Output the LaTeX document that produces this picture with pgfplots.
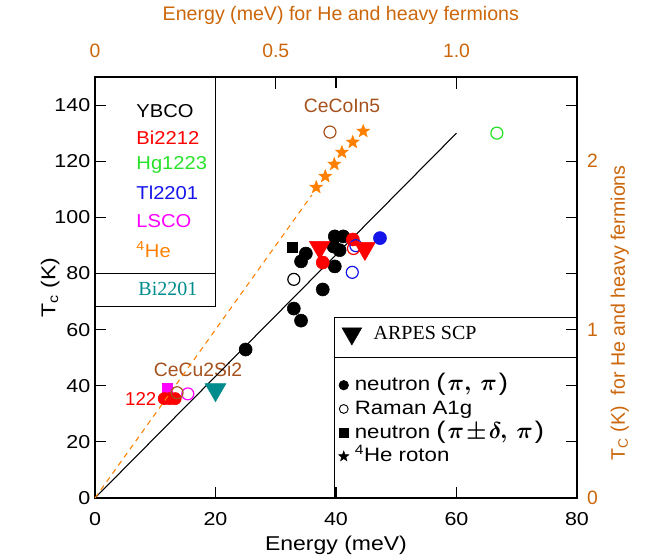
\documentclass[border=0pt]{standalone}
\usepackage{fontspec}
\setmainfont{Liberation Sans}
\newfontfamily\hers[FakeStretch=1.15]{Liberation Sans}
\newfontfamily\hersn[FakeStretch=1.08]{Liberation Sans}
\newfontfamily\serif{Liberation Serif}
\usepackage{pgfplots}
\pgfplotsset{compat=1.18}
\definecolor{axorange}{RGB}{204,102,10}
\definecolor{hfbrown}{RGB}{165,82,30}
\definecolor{heorange}{RGB}{255,128,0}
\definecolor{hggreen}{RGB}{40,225,40}
\definecolor{tlblue}{RGB}{20,20,235}
\definecolor{lscomag}{RGB}{255,0,255}
\definecolor{biteal}{RGB}{0,140,140}
\newcommand{\bp}[1]{{\fontsize{18}{18}\selectfont(\kern1.5pt\boldmath$#1$\kern1.5pt)}}
\pgfdeclareplotmark{fstar}{%
 \pgfpathmoveto{\pgfpointpolar{90}{\pgfplotmarksize}}%
 \pgfpathlineto{\pgfpointpolar{126}{0.42\pgfplotmarksize}}%
 \pgfpathlineto{\pgfpointpolar{162}{\pgfplotmarksize}}%
 \pgfpathlineto{\pgfpointpolar{198}{0.42\pgfplotmarksize}}%
 \pgfpathlineto{\pgfpointpolar{234}{\pgfplotmarksize}}%
 \pgfpathlineto{\pgfpointpolar{270}{0.42\pgfplotmarksize}}%
 \pgfpathlineto{\pgfpointpolar{306}{\pgfplotmarksize}}%
 \pgfpathlineto{\pgfpointpolar{342}{0.42\pgfplotmarksize}}%
 \pgfpathlineto{\pgfpointpolar{18}{\pgfplotmarksize}}%
 \pgfpathlineto{\pgfpointpolar{54}{0.42\pgfplotmarksize}}%
 \pgfpathclose\pgfusepathqfillstroke}
\begin{document}
\begin{tikzpicture}
\path[use as bounding box] (-71.25pt,-45.75pt) rectangle (416.25pt,373.5pt);
% ---------------- main axis (cuprates) ----------------
\begin{axis}[
  at={(0pt,0pt)}, anchor=south west, scale only axis,
  width=361.5pt, height=315.75pt,
  xmin=0, xmax=80, ymin=0, ymax=150,
  xtick={0,20,40,60,80}, ytick={0,20,40,60,80,100,120,140},
  xticklabel pos=lower, yticklabel pos=left,
  tick align=inside, major tick length=8pt,
  tick style={black, line width=0.8pt},
  axis line style={black, line width=0.9pt},
  ticklabel style={font=\hers\fontsize{14}{16}\selectfont},
  xticklabel style={yshift=-7pt},
  /pgf/number format/assume math mode=true,
  xlabel={Energy (meV)},
  ylabel={T\textsubscript{c} (K)},
  xlabel style={font=\hers\fontsize{15}{17}\selectfont, at={(axis description cs:0.5,-0.112)}, anchor=center},
  ylabel style={font=\hers\fontsize{15}{17}\selectfont, at={(axis description cs:-0.093,0.5)}, anchor=center},
  clip=false,
  legend image code/.code={\draw[#1] plot coordinates {(0pt,0pt)};},
  legend cell align=left,
  legend style={draw=none, fill=none, at={(axis cs:40.4,43.6)}, anchor=north west,
    font=\hers\fontsize{14.5}{17}\selectfont, inner sep=0pt,
    nodes={inner sep=0pt, text height=11pt, text depth=3pt},
    row sep=3.8pt, column sep=4.5pt},
]
\addlegendimage{only marks, mark=*, mark size=3.6pt, black}
\addlegendentry{neutron \bp{\pi,\,\pi}}
\addlegendimage{only marks, mark=o, mark size=3.3pt, black, line width=0.7pt}
\addlegendentry{Raman A1g}
\addlegendimage{only marks, mark=square*, mark size=3.3pt, black}
\addlegendentry{neutron \bp{\pi\kern1.5pt{\pm}\kern1.5pt\delta,\,\pi}}
\addlegendimage{only marks, mark=fstar, mark size=4pt, black}
\addlegendentry{\textsuperscript{4}He roton}
% boxes
\draw[black, line width=0.9pt] (axis cs:0,80) -- (axis cs:20,80) -- (axis cs:20,150);
\draw[black, line width=0.9pt] (axis cs:0,68.2) -- (axis cs:20,68.2) -- (axis cs:20,80);
\draw[black, line width=0.9pt] (axis cs:39.7,0) -- (axis cs:39.7,64.3) -- (axis cs:80,64.3);
\draw[black, line width=0.9pt] (axis cs:39.7,50) -- (axis cs:80,50);
% material key
\node[anchor=west, font=\hersn\fontsize{14}{16}\selectfont, text=black] at (axis cs:6.1,137.9) {YBCO};
\node[anchor=west, font=\hersn\fontsize{14}{16}\selectfont, text=red] at (axis cs:6.1,128.2) {Bi2212};
\node[anchor=west, font=\hersn\fontsize{14}{16}\selectfont, text=hggreen] at (axis cs:6.1,118.7) {Hg1223};
\node[anchor=west, font=\hersn\fontsize{14}{16}\selectfont, text=tlblue] at (axis cs:6.1,108.9) {Tl2201};
\node[anchor=west, font=\hersn\fontsize{14}{16}\selectfont, text=lscomag] at (axis cs:6.1,98.6) {LSCO};
\node[anchor=west, font=\hersn\fontsize{14}{16}\selectfont, text=heorange] at (axis cs:6.1,88.6) {\textsuperscript{4}He};
\node[font=\serif\fontsize{15}{17}\selectfont, text=biteal] at (axis cs:12.1,74.4) {Bi2201};
\node[font=\fontsize{14.5}{16}\selectfont, text=hfbrown] at (axis cs:41.0,139.6) {CeCoIn5};
\node[font=\fontsize{14.5}{16}\selectfont, text=hfbrown] at (axis cs:17.1,45.7) {CeCu2Si2};
\node[font=\fontsize{14}{16}\selectfont, text=red] at (axis cs:7.6,35.2) {122};
% YBCO neutron (pi,pi)
\addplot[only marks, mark=*, mark size=4.9pt, black, forget plot] coordinates {
 (25.0,52.9) (33.0,67.5) (34.2,63.2) (37.8,74.3) (34.2,84.3) (35.0,87.1)
 (39.8,82.5) (39.6,89.6) (40.6,88.3) (39.8,93.2) (41.2,93.2)};
% YBCO Raman A1g
\addplot[only marks, mark=o, mark size=4.5pt, black, line width=0.9pt, forget plot] coordinates {(33.0,77.9)};
% YBCO neutron (pi+-delta,pi)
\addplot[only marks, mark=square*, mark size=3.75pt, black, forget plot] coordinates {(32.7,89.3)};
% Bi2212 neutron
\addplot[only marks, mark=*, mark size=4.9pt, red, forget plot] coordinates {(37.8,83.9) (42.8,92.1)};
% Tl2201 Raman
\addplot[only marks, mark=o, mark size=4.5pt, tlblue, line width=0.9pt, forget plot] coordinates {(43.3,89.9) (42.7,80.4)};
% Bi2212 Raman
\addplot[only marks, mark=o, mark size=4.5pt, red, line width=0.9pt, forget plot] coordinates {(42.9,88.9)};
% Bi2212 ARPES SCP
\addplot[only marks, mark=triangle*, mark options={rotate=180}, mark size=9pt, red, forget plot] coordinates {(37.3,89.3) (44.8,88.9)};
% Tl2201 neutron
\addplot[only marks, mark=*, mark size=4.9pt, tlblue, forget plot] coordinates {(47.3,92.6)};
% Hg1223 Raman
\addplot[only marks, mark=o, mark size=4.5pt, hggreen, line width=0.9pt, forget plot] coordinates {(66.7,130.0)};
% LSCO
\addplot[only marks, mark=square*, mark size=3.75pt, lscomag, forget plot] coordinates {(12.0,39.1)};
\addplot[only marks, mark=o, mark size=4.5pt, lscomag, line width=0.9pt, forget plot] coordinates {(15.4,37.1)};
% 122
\addplot[only marks, mark=*, mark size=4.6pt, red, forget plot] coordinates {(11.5,35.4) (12.4,35.4) (13.3,35.4)};
% Bi2201 ARPES
\addplot[only marks, mark=triangle*, mark options={rotate=180}, mark size=9pt, biteal, forget plot] coordinates {(20.0,38.6)};
% scaling line
\addplot[black, line width=0.8pt, forget plot] coordinates {(0,0) (60,130)};
\end{axis}
% ---------------- secondary axis (He, heavy fermions) ----------------
\begin{axis}[
  at={(0pt,0pt)}, anchor=south west, scale only axis,
  width=361.5pt, height=315.75pt,
  xmin=0, xmax=1.333333, ymin=0, ymax=2.5,
  axis x line*=top, axis y line*=right,
  xtick={0,0.5,1}, xticklabels={0,0.5,1.0},
  ytick={0,1,2}, yticklabels={0,1,2},
  tick align=inside, major tick length=9pt,
  xtick style={black, line width=0.8pt},
  ytick style={draw=none},
  axis line style={black, line width=0.9pt},
  ticklabel style={font=\fontsize{14.5}{16}\selectfont, text=axorange},
  xticklabel style={yshift=11pt},
  yticklabel style={xshift=4pt},
  xlabel={Energy (meV) for He and heavy fermions},
  ylabel={T\textsubscript{C} (K)\ \ for He and heavy fermions},
  label style={font=\fontsize{14.7}{17}\selectfont, text=axorange},
  xlabel style={at={(axis description cs:0.51,1.147)}, anchor=center},
  ylabel style={at={(axis description cs:1.089,0.44)}, anchor=center},
  clip=false,
  legend image code/.code={\draw[#1] plot coordinates {(0pt,0pt)};},
  legend style={draw=none, fill=none, at={(axis description cs:0.512,0.386)}, anchor=west,
    font=\serif\fontsize{15}{17}\selectfont, inner sep=0pt,
    nodes={inner sep=0pt}, column sep=9pt},
]
\addlegendimage{only marks, mark=triangle*, mark options={rotate=180}, mark size=8.5pt, black}
\addlegendentry{ARPES SCP}
% 4He line guide
\addplot[heorange, line width=0.8pt, dash pattern=on 4pt off 3.5pt, forget plot] coordinates {(0,0) (0.60,1.80)};
% 4He roton
\addplot[only marks, mark=fstar, mark size=5pt, heorange, forget plot] coordinates {
 (0.612,1.845) (0.637,1.910) (0.662,1.982) (0.683,2.053) (0.713,2.113) (0.742,2.178)};
% CeCoIn5
\addplot[only marks, mark=o, mark size=4.5pt, hfbrown, line width=0.9pt, forget plot] coordinates {(0.650,2.173)};
% CeCu2Si2
\addplot[only marks, mark=o, mark size=4.5pt, hfbrown, line width=0.9pt, forget plot] coordinates {(0.227,0.625)};
\end{axis}
\end{tikzpicture}
\end{document}
